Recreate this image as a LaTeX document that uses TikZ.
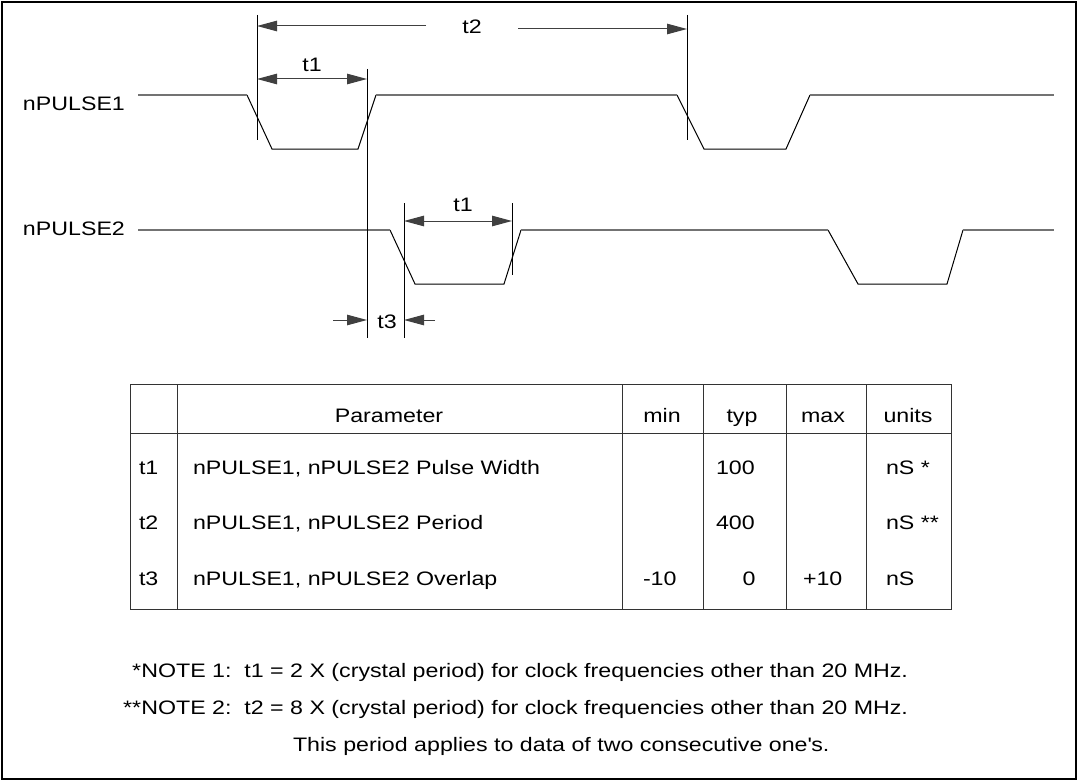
\documentclass[tikz,border=0pt]{standalone}
\usepackage{fontspec}
\setmainfont{Liberation Sans}[FakeStretch=1.19]
\usetikzlibrary{arrows.meta}
\tikzset{
  txt/.style={inner sep=0pt, outer sep=0pt, font=\fontsize{19.5pt}{23pt}\selectfont},
  wave/.style={line width=1pt, black, line join=miter},
  hi/.style={line width=1.7pt, black!55},
  vline/.style={line width=1pt, black},
  dim/.style={line width=1pt, black!75, -{Triangle[length=20pt,width=10.5pt]}},
  dimb/.style={line width=1pt, black!75, {Triangle[length=20pt,width=10.5pt]}-{Triangle[length=20pt,width=10.5pt]}},
  grid/.style={line width=1pt, black!80},
  frame/.style={line width=2pt, black}
}
\begin{document}
\begin{tikzpicture}[x=1pt,y=-1pt]
\useasboundingbox (0,0) rectangle (1078,781);
\draw[frame] (2,2) rectangle (1075.5,778.5);

% signal names
\node[txt, anchor=base west] (n1) at (23,111) {nPULSE1};
\node[txt, anchor=base west] (n2) at (23,235) {nPULSE2};

% waveform 1 coordinates
\coordinate (a0) at (138,95);
\coordinate (a1) at (247,95);
\coordinate (a2) at (272,149);
\coordinate (a3) at (358,149);
\coordinate (a4) at (376,95);
\coordinate (a5) at (677,95);
\coordinate (a6) at (704,149);
\coordinate (a7) at (786,149);
\coordinate (a8) at (810,95);
\coordinate (a9) at (1054,95);
\draw[wave] (a1) -- (a2) -- (a3) -- (a4);
\draw[wave] (a5) -- (a6) -- (a7) -- (a8);
\draw[hi] (a0) -- (a1);
\draw[hi] (a4) -- (a5);
\draw[hi] (a8) -- (a9);

% waveform 2 coordinates
\coordinate (b0) at (138,230);
\coordinate (b1) at (390,230);
\coordinate (b2) at (415,284);
\coordinate (b3) at (504,284);
\coordinate (b4) at (521,230);
\coordinate (b5) at (828,230);
\coordinate (b6) at (858,284);
\coordinate (b7) at (947,284);
\coordinate (b8) at (963,230);
\coordinate (b9) at (1054,230);
\draw[wave] (b1) -- (b2) -- (b3) -- (b4);
\draw[wave] (b5) -- (b6) -- (b7) -- (b8);
\draw[hi] (b0) -- (b1);
\draw[hi] (b4) -- (b5);
\draw[hi] (b8) -- (b9);

% extension lines
\coordinate (v1t) at (257,15);  \coordinate (v1b) at (257,140);
\coordinate (v2t) at (367,69);  \coordinate (v2b) at (367,338);
\coordinate (v3t) at (687,15);  \coordinate (v3b) at (687,140);
\coordinate (v4t) at (404,203); \coordinate (v4b) at (404,338);
\coordinate (v5t) at (512,203); \coordinate (v5b) at (512,275);
\draw[vline] (v1t) -- (v1b);
\draw[vline] (v2t) -- (v2b);
\draw[vline] (v3t) -- (v3b);
\draw[vline] (v4t) -- (v4b);
\draw[vline] (v5t) -- (v5b);

% t2
\node[txt, anchor=base] (t2) at (472,34) {t2};
\coordinate (t2l0) at (426,26); \coordinate (t2l1) at (257,26);
\coordinate (t2r0) at (518,29); \coordinate (t2r1) at (687,29);
\draw[dim] (t2l0) -- (t2l1);
\draw[dim] (t2r0) -- (t2r1);

% t1 top
\node[txt, anchor=base] (t1a) at (312,72) {t1};
\coordinate (t1al) at (257,79); \coordinate (t1ar) at (367,79);
\draw[dimb] (t1al) -- (t1ar);

% t1 bottom
\node[txt, anchor=base] (t1b) at (463,211) {t1};
\coordinate (t1bl) at (404,221); \coordinate (t1br) at (512,221);
\draw[dimb] (t1bl) -- (t1br);

% t3
\node[txt, anchor=base] (t3) at (387,328) {t3};
\coordinate (t3l0) at (333,320); \coordinate (t3l1) at (367,320);
\coordinate (t3r0) at (435,320); \coordinate (t3r1) at (404,320);
\draw[dim] (t3l0) -- (t3l1);
\draw[dim] (t3r0) -- (t3r1);

% table
\draw[grid] (130,384) rectangle (951,609);
\draw[grid] (130,433) -- (951,433);
\foreach \x in {177,622,703,786,866} \draw[grid] (\x,384) -- (\x,609);

\node[txt, anchor=base] (hp) at (389,422) {Parameter};
\node[txt, anchor=base] (hmin) at (662,422) {min};
\node[txt, anchor=base] (htyp) at (742,422) {typ};
\node[txt, anchor=base] (hmax) at (823,422) {max};
\node[txt, anchor=base] (hun) at (908,422) {units};

\node[txt, anchor=base west] (r1a) at (139,474) {t1};
\node[txt, anchor=base west] (r1b) at (193,474) {nPULSE1, nPULSE2 Pulse Width};
\node[txt, anchor=base west] (r1c) at (716,474) {100};
\node[txt, anchor=base west] (r1d) at (886,474) {nS *};

\node[txt, anchor=base west] (r2a) at (139,529) {t2};
\node[txt, anchor=base west] (r2b) at (193,529) {nPULSE1, nPULSE2 Period};
\node[txt, anchor=base west] (r2c) at (716,529) {400};
\node[txt, anchor=base west] (r2d) at (886,529) {nS **};

\node[txt, anchor=base west] (r3a) at (139,585) {t3};
\node[txt, anchor=base west] (r3b) at (193,585) {nPULSE1, nPULSE2 Overlap};
\node[txt, anchor=base west] (r3c) at (643,585) {-10};
\node[txt, anchor=base] (r3d) at (749,585) {0};
\node[txt, anchor=base west] (r3e) at (803,585) {+10};
\node[txt, anchor=base west] (r3f) at (886,585) {nS};

% notes
\node[txt, anchor=base east] (note1) at (908,677) {*NOTE 1:\ \ t1 = 2 X (crystal period) for clock frequencies other than 20 MHz.};
\node[txt, anchor=base east] (note2) at (908,714) {**NOTE 2:\ \ t2 = 8 X (crystal period) for clock frequencies other than 20 MHz.};
\node[txt, anchor=base west] (note3) at (293,751) {This period applies to data of two consecutive one\textquotesingle s.};
\end{tikzpicture}
\end{document}
